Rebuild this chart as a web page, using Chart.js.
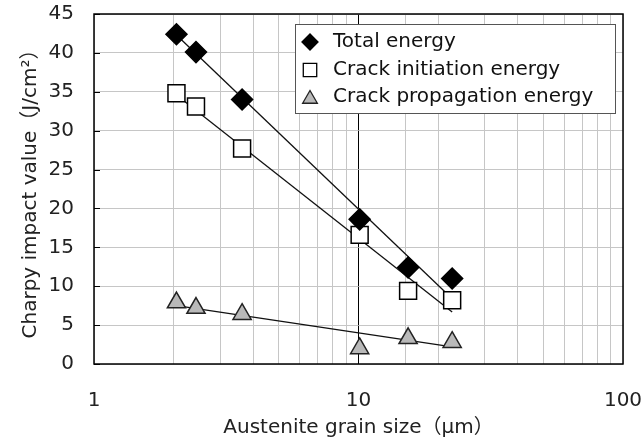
<!DOCTYPE html>
<html>
<head>
<meta charset="utf-8">
<script src="https://cdn.jsdelivr.net/npm/chart.js@4.4.1/dist/chart.umd.min.js"></script>
<style>
  html, body { margin: 0; padding: 0; background: #fff; }
  canvas { display: block; }
</style>
</head>
<body>
<canvas id="c" width="642" height="447"></canvas>
<script>
// ---- data ----
const grainSize = [2.05, 2.43, 3.63, 10.1, 15.4, 22.6];
const totalEnergy = [42.4, 40.1, 34.0, 18.6, 12.4, 11.0];
const initiationEnergy = [34.8, 33.1, 27.7, 16.6, 9.4, 8.2];
const propagationEnergy = [7.9, 7.2, 6.4, 2.0, 3.3, 2.8];

// fitted trend lines (end points)
const totalTrendX = [2.05, 21.8];
const totalTrendY = [42.3, 8.9];
const initiationTrendX = [2.05, 22.6];
const initiationTrendY = [34.6, 6.7];
const propagationTrendX = [2.05, 22.6];
const propagationTrendY = [7.5, 2.2];

const yTicks = [0, 5, 10, 15, 20, 25, 30, 35, 40, 45];
const xTickLabels = [1, 10, 100];

const seriesNames = ['Total energy', 'Crack initiation energy', 'Crack propagation energy'];
const yTitle = 'Charpy impact value（J/cm²）';
const xTitle = 'Austenite grain size（μm）';

const FONT = '"DejaVu Sans", "Noto Sans CJK JP", sans-serif';

const pts = (xs, ys) => xs.map((x, i) => ({ x: x, y: ys[i] }));

const markerStyles = [
  { pointStyle: 'rectRot', radius: 10.5, bg: '#000000', border: '#000000' },
  { pointStyle: 'rect', radius: 12, bg: '#ffffff', border: '#000000' },
  { pointStyle: 'triangle', radius: 10.5, bg: '#b9b9b9', border: '#222222' }
];

function trend(xs, ys) {
  return {
    type: 'line',
    data: pts(xs, ys),
    borderColor: '#111111',
    borderWidth: 1.3,
    pointRadius: 0,
    pointHoverRadius: 0,
    fill: false,
    order: 2
  };
}

function markers(ys, k) {
  const s = markerStyles[k];
  return {
    type: 'scatter',
    label: seriesNames[k],
    data: pts(grainSize, ys),
    pointStyle: s.pointStyle,
    pointRadius: s.radius,
    pointHoverRadius: s.radius,
    backgroundColor: s.bg,
    borderColor: s.border,
    pointBorderWidth: 1.5,
    borderWidth: 1.5,
    showLine: false,
    order: 1
  };
}

const frameAndLegend = {
  id: 'frameAndLegend',
  afterDraw(chart) {
    const ctx = chart.ctx;
    const a = chart.chartArea;
    const ys = chart.scales.y;
    ctx.save();
    // inward ticks on y axis
    ctx.strokeStyle = '#000';
    ctx.lineWidth = 1;
    yTicks.forEach(v => {
      const py = Math.round(ys.getPixelForValue(v)) + 0.5;
      ctx.beginPath();
      ctx.moveTo(a.left, py);
      ctx.lineTo(a.left + 6, py);
      ctx.stroke();
    });
    // frame
    ctx.lineWidth = 1.5;
    ctx.strokeStyle = '#000';
    ctx.strokeRect(a.left, a.top, a.right - a.left, a.bottom - a.top);

    // legend
    const bx = a.right - 328, by = a.top + 10, bw = 320, bh = 89;
    ctx.fillStyle = '#fff';
    ctx.fillRect(bx, by, bw, bh);
    ctx.lineWidth = 1;
    ctx.strokeStyle = '#555';
    ctx.strokeRect(bx + 0.5, by + 0.5, bw, bh);
    const rowY = [by + 18, by + 46, by + 73];
    const legR = [8, 9.5, 8.5];
    ctx.font = '20px ' + FONT;
    ctx.textBaseline = 'middle';
    ctx.textAlign = 'left';
    seriesNames.forEach((name, k) => {
      const s = markerStyles[k];
      ctx.fillStyle = s.bg;
      ctx.strokeStyle = s.border;
      ctx.lineWidth = 1.3;
      Chart.helpers.drawPoint(ctx, { pointStyle: s.pointStyle, radius: legR[k], borderWidth: 1.3 }, bx + 15, rowY[k] + (k === 2 ? 2 : 0));
      ctx.fillStyle = '#111';
      ctx.fillText(name, bx + 38, rowY[k]);
    });
    ctx.restore();
  }
};

new Chart(document.getElementById('c'), {
  data: {
    datasets: [
      markers(totalEnergy, 0),
      markers(initiationEnergy, 1),
      markers(propagationEnergy, 2),
      trend(totalTrendX, totalTrendY),
      trend(initiationTrendX, initiationTrendY),
      trend(propagationTrendX, propagationTrendY)
    ]
  },
  options: {
    responsive: false,
    animation: false,
    devicePixelRatio: 1,
    layout: { padding: { top: 14, right: 19, left: 0, bottom: 0 } },
    plugins: {
      legend: { display: false },
      tooltip: { enabled: false }
    },
    scales: {
      x: {
        type: 'logarithmic',
        min: 1,
        max: 100,
        afterFit(scale) {
          scale.height = 83;
          scale.paddingLeft = 0; scale.paddingRight = 0;
          scale.paddingTop = 0; scale.paddingBottom = 0;
        },
        border: { display: false },
        grid: {
          drawTicks: false,
          lineWidth: 1,
          color(ctx) {
            const v = ctx.tick && ctx.tick.value;
            return Math.abs(v - 10) < 1e-9 ? '#000000' : '#c6c6c6';
          }
        },
        ticks: {
          padding: 25,
          maxRotation: 0,
          autoSkip: false,
          color: '#222',
          font: { family: FONT, size: 20 },
          callback(value) {
            return xTickLabels.includes(value) ? String(value) : '';
          }
        },
        title: {
          display: true,
          text: xTitle,
          color: '#222',
          font: { family: FONT, size: 20 },
          padding: { top: 0, bottom: 7 }
        }
      },
      y: {
        type: 'linear',
        min: 0,
        max: 45,
        afterFit(scale) {
          scale.width = 94;
          scale.paddingLeft = 0; scale.paddingRight = 0;
          scale.paddingTop = 0; scale.paddingBottom = 0;
        },
        afterBuildTicks(scale) { scale.ticks = yTicks.map(v => ({ value: v })); },
        border: { display: false },
        grid: { drawTicks: false, color: '#c6c6c6', lineWidth: 1 },
        ticks: {
          padding: 20,
          color: '#222',
          font: { family: FONT, size: 20 }
        },
        title: {
          display: true,
          text: yTitle,
          color: '#222',
          font: { family: FONT, size: 20 },
          padding: { top: 19, bottom: 0 }
        }
      }
    }
  },
  plugins: [frameAndLegend]
});
</script>
</body>
</html>
